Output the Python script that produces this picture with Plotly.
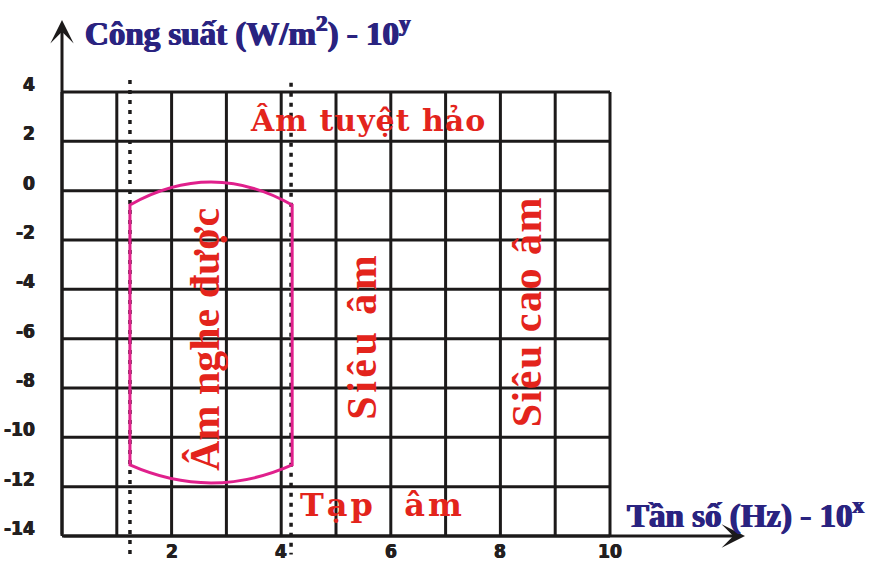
import plotly.graph_objects as go

# ---------------- data ----------------
x_ticks = [2, 4, 6, 8, 10]
x_tick_labels = ["2", "4", "6", "8", "10"]
y_ticks = [4, 2, 0, -2, -4, -6, -8, -10, -12, -14]
y_tick_labels = ["4", "2", "0", "-2", "-4", "-6", "-8", "-10", "-12", "-14"]
x_grid = [0, 1, 2, 3, 4, 5, 6, 7, 8, 9, 10]
y_grid = [4, 2, 0, -2, -4, -6, -8, -10, -12, -14]

boundary_x = [1.24, 4.18]          # dotted boundaries (20 Hz, 20 kHz)
boundary_top = [4.49, 4.37]
boundary_bottom = [-14.75, -14.75]

audible_x = [1.24, 4.2]            # audible region (capsule)
audible_y = [0.35, -0.58, -11.12, -11.85]   # top, side-top, side-bottom, bottom

region_texts = ["Âm nghe được", "Siêu âm", "Siêu cao âm", "Âm tuyệt hảo", "Tạp  âm"]
region_x = [2.61, 5.47, 8.49, 5.58, 5.84]
region_y = [-6.05, -5.89, -4.92, 2.86, -12.74]
region_angle = [-90, -90, -90, 0, 0]

y_title = "Công suất (W/m<sup>2</sup>) - 10<sup>y</sup>"
x_title = "Tần số (Hz) - 10<sup>x</sup>"

# ---------------- geometry (pixel mapping) ----------------
W, H = 873, 563
PX_X0, PX_X10 = 62, 610
PX_Y4, PX_YM14 = 92, 536
sx = (PX_X10 - PX_X0) / 10.0
sy = (PX_YM14 - PX_Y4) / 18.0
x_range = [-PX_X0 / sx, (W - PX_X0) / sx]
y_range = [-14 - (H - PX_YM14) / sy, 4 + PX_Y4 / sy]

GRID_COLOR = "#1c1a1a"
RED = "#e3241c"
NAVY = "#2a2380"
PINK = "#e0208c"

# per-label styling (size, letter spacing)
label_styles = {
    "Âm nghe được": ("Liberation Serif", 42, 0),
    "Siêu âm": ("Liberation Serif", 42, 3.5),
    "Siêu cao âm": ("Liberation Serif", 42, 1.5),
    "Âm tuyệt hảo": ("DejaVu Serif", 30, 1),
    "Tạp  âm": ("DejaVu Serif", 32, 3),
}

fig = go.Figure()

# grid
gx, gy = [], []
for x in x_grid:
    gx += [x, x, None]
    gy += [min(y_grid), max(y_grid), None]
for y in y_grid:
    gx += [min(x_grid), max(x_grid), None]
    gy += [y, y, None]
fig.add_trace(go.Scatter(x=gx, y=gy, mode="lines",
                         line=dict(color=GRID_COLOR, width=3),
                         hoverinfo="skip", showlegend=False))

# dotted boundaries
for bx, bt, bb in zip(boundary_x, boundary_top, boundary_bottom):
    fig.add_trace(go.Scatter(x=[bx, bx], y=[bt, bb], mode="lines",
                             line=dict(color=GRID_COLOR, width=3.5, dash="4px,6px"),
                             hoverinfo="skip", showlegend=False))

# capsule path for audible region
x0, x1 = audible_x
yt, yst, ysb, yb = audible_y
xm = (x0 + x1) / 2
ctrl_top = 2 * yt - yst
ctrl_bot = 2 * yb - ysb
path = (f"M {x0},{yst} L {x0},{ysb} Q {xm},{ctrl_bot} {x1},{ysb} "
        f"L {x1},{yst} Q {xm},{ctrl_top} {x0},{yst} Z")
fig.add_shape(type="path", path=path, xref="x", yref="y",
              line=dict(color=PINK, width=3))

annotations = []
# axes arrows
annotations.append(dict(x=0, y=4 + (PX_Y4 - 20) / sy, ax=0, ay=-14,
                        xref="x", yref="y", axref="x", ayref="y", text="",
                        showarrow=True, arrowhead=3, arrowsize=1.3,
                        arrowwidth=3, arrowcolor=GRID_COLOR))
annotations.append(dict(x=(745 - PX_X0) / sx, y=-14, ax=0, ay=-14,
                        xref="x", yref="y", axref="x", ayref="y", text="",
                        showarrow=True, arrowhead=3, arrowsize=1.3,
                        arrowwidth=3, arrowcolor=GRID_COLOR))

tick_font = dict(family="Liberation Sans Narrow, DejaVu Sans Condensed, Liberation Sans",
                 size=19, color="#231f20",
                 shadow="0.5px 0 0 #231f20, -0.5px 0 0 #231f20")
for v, t in zip(y_ticks, y_tick_labels):
    annotations.append(dict(x=(37 - PX_X0) / sx, y=v, xref="x", yref="y",
                            text=f"<b>{t}</b>", showarrow=False, xanchor="right",
                            yanchor="middle", yshift=8, font=tick_font))
for v, t in zip(x_ticks, x_tick_labels):
    annotations.append(dict(x=v, y=-14, xref="x", yref="y",
                            text=f"<b>{t}</b>", showarrow=False, xanchor="center",
                            yanchor="middle", yshift=-15, font=tick_font))

# region labels
for t, x, y, a in zip(region_texts, region_x, region_y, region_angle):
    fam, size, ls = label_styles[t]
    txt = f"<span style='letter-spacing:{ls}px'><b>{t}</b></span>" if ls else f"<b>{t}</b>"
    annotations.append(dict(x=x, y=y, xref="x", yref="y", text=txt,
                            showarrow=False, textangle=a,
                            font=dict(family=fam, size=size, color=RED),
                            xanchor="center", yanchor="middle"))

# axis titles
title_font = dict(family="Liberation Serif", size=33, color=NAVY,
                  shadow="0.7px 0 0 #2a2380, -0.7px 0 0 #2a2380")
annotations.append(dict(x=83 / W, y=1 - 31 / H, xref="paper", yref="paper",
                        text=f"<b>{y_title}</b>", showarrow=False,
                        xanchor="left", yanchor="middle", font=title_font))
annotations.append(dict(x=625 / W, y=1 - 513 / H, xref="paper", yref="paper",
                        text=f"<b>{x_title}</b>", showarrow=False,
                        xanchor="left", yanchor="middle", font=title_font))

fig.update_layout(
    width=W, height=H,
    margin=dict(l=0, r=0, t=0, b=0),
    paper_bgcolor="white", plot_bgcolor="white",
    xaxis=dict(range=x_range, visible=False, fixedrange=True),
    yaxis=dict(range=y_range, visible=False, fixedrange=True),
    annotations=annotations,
    showlegend=False,
)

fig.write_html("out.html",
               config={"displayModeBar": False, "staticPlot": True},
               post_script="document.body.style.margin='0px';document.body.style.overflow='hidden';")
